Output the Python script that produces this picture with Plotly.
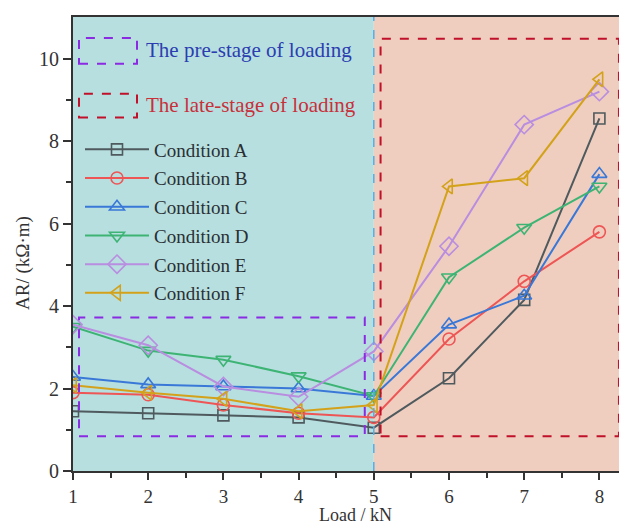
import plotly.graph_objects as go

loads = [1, 2, 3, 4, 5, 6, 7, 8]
cond_a = [1.45, 1.40, 1.35, 1.30, 1.05, 2.25, 4.15, 8.55]
cond_b = [1.90, 1.85, 1.60, 1.40, 1.30, 3.20, 4.60, 5.80]
cond_c = [2.28, 2.10, 2.05, 2.00, 1.82, 3.55, 4.25, 7.20]
cond_d = [3.50, 2.92, 2.70, 2.30, 1.82, 4.70, 5.90, 6.90]
cond_e = [3.55, 3.05, 2.05, 1.80, 2.90, 5.45, 8.40, 9.20]
cond_f = [2.08, 1.90, 1.75, 1.45, 1.60, 6.90, 7.10, 9.50]

names = ["Condition A", "Condition B", "Condition C", "Condition D", "Condition E", "Condition F"]
series = [cond_a, cond_b, cond_c, cond_d, cond_e, cond_f]
colors = ["#4f5a5e", "#ee5555", "#3a78d8", "#3db474", "#b98de0", "#d3a21a"]
symbols = ["square-open", "circle-open", "triangle-up-open", "triangle-down-open",
           "diamond-open", "triangle-left-open"]
msizes = [11, 12, 13, 13, 14, 13]

X_MAX = 8.367
Y_MAX = 11.01
FONT = "Liberation Serif, Times New Roman, serif"

fig = go.Figure()
for i, (n, s, c, sym, ms) in enumerate(zip(names, series, colors, symbols, msizes)):
    fig.add_trace(go.Scatter(
        x=loads, y=s, name=n, mode="lines+markers",
        line=dict(color=c, width=2),
        marker=dict(symbol=sym, size=ms, color=c, line=dict(color=c, width=1.6)),
        legendgroup=n,
    ))

# helpers: window pixel -> paper coords (plot area spans x 73..627, y 15..471 in window)
def px(xp):
    return (xp - 73.0) / 554.0
def py(yp):
    return (471.0 - yp) / 456.0

shapes = [
    dict(type="rect", xref="x", yref="paper", x0=1, x1=5, y0=0, y1=1,
         fillcolor="#b7dfe0", line=dict(width=0), layer="below"),
    dict(type="rect", xref="x", yref="paper", x0=5, x1=X_MAX, y0=0, y1=1,
         fillcolor="#efcebf", line=dict(width=0), layer="below"),
    dict(type="line", xref="x", yref="paper", x0=5, x1=5, y0=0, y1=1,
         line=dict(color="#55aee6", width=1.5, dash="dash")),
    # pre-stage rectangle
    dict(type="rect", xref="x", yref="y", x0=1.08, x1=4.88, y0=0.84, y1=3.72,
         line=dict(color="#8a2be2", width=2, dash="dash")),
    # late-stage rectangle
    dict(type="rect", xref="x", yref="y", x0=5.09, x1=8.26, y0=0.84, y1=10.48,
         line=dict(color="#c0102a", width=2, dash="dash")),
    # key rectangles
    dict(type="rect", xref="paper", yref="paper", x0=px(79), x1=px(137), y0=py(62), y1=py(36),
         line=dict(color="#8a2be2", width=2, dash="dash")),
    dict(type="rect", xref="paper", yref="paper", x0=px(79), x1=px(137), y0=py(116), y1=py(92),
         line=dict(color="#c0102a", width=2, dash="dash")),
]

annotations = [
    dict(xref="paper", yref="paper", x=px(144), y=py(48), xanchor="left", yanchor="middle",
         text="The pre-stage of loading", showarrow=False,
         font=dict(family=FONT, size=21, color="#2b3db0")),
    dict(xref="paper", yref="paper", x=px(144), y=py(103), xanchor="left", yanchor="middle",
         text="The late-stage of loading", showarrow=False,
         font=dict(family=FONT, size=21, color="#c8303a")),
    dict(xref="paper", yref="paper", x=px(355), y=py(515), xanchor="center", yanchor="middle",
         text="Load / kN", showarrow=False,
         font=dict(family=FONT, size=18, color="#333333")),
    dict(xref="paper", yref="paper", x=px(23), y=py(262), xanchor="center", yanchor="middle",
         text="AR/ (kΩ·m)", showarrow=False, textangle=-90,
         font=dict(family=FONT, size=19, color="#333333")),
]

fig.update_layout(
    width=627, height=527,
    margin=dict(l=65, r=8, t=7, b=64),
    paper_bgcolor="white", plot_bgcolor="white",
    font=dict(family=FONT, size=19, color="#333333"),
    shapes=shapes, annotations=annotations,
    showlegend=True,
    legend=dict(x=px(80), y=py(129), xanchor="left", yanchor="top",
                bgcolor="rgba(0,0,0,0)", borderwidth=0,
                font=dict(family=FONT, size=19, color="#2a2f33"),
                itemwidth=64, tracegroupgap=1, traceorder="grouped"),
    xaxis=dict(range=[1, X_MAX], tickvals=[1, 2, 3, 4, 5, 6, 7, 8],
               showgrid=False, zeroline=False, showline=True, linecolor="#333333",
               linewidth=2, mirror=True, ticks="outside", ticklen=7, tickwidth=1.5,
               tickcolor="#333333",
               minor=dict(tickvals=[1.5, 2.5, 3.5, 4.5, 5.5, 6.5, 7.5], ticks="outside",
                          ticklen=5, tickwidth=1.5, tickcolor="#333333"),
               tickfont=dict(family=FONT, size=19, color="#333333")),
    yaxis=dict(range=[0, Y_MAX], tickvals=[0, 2, 4, 6, 8, 10],
               showgrid=False, zeroline=False, showline=True, linecolor="#333333",
               linewidth=2, mirror=False, ticks="outside", ticklen=8, tickwidth=1.5,
               tickcolor="#333333",
               minor=dict(tickvals=[1, 3, 5, 7, 9], ticks="outside",
                          ticklen=5, tickwidth=1.5, tickcolor="#333333"),
               tickfont=dict(family=FONT, size=20, color="#333333")),
)

fig.write_html("out.html")
